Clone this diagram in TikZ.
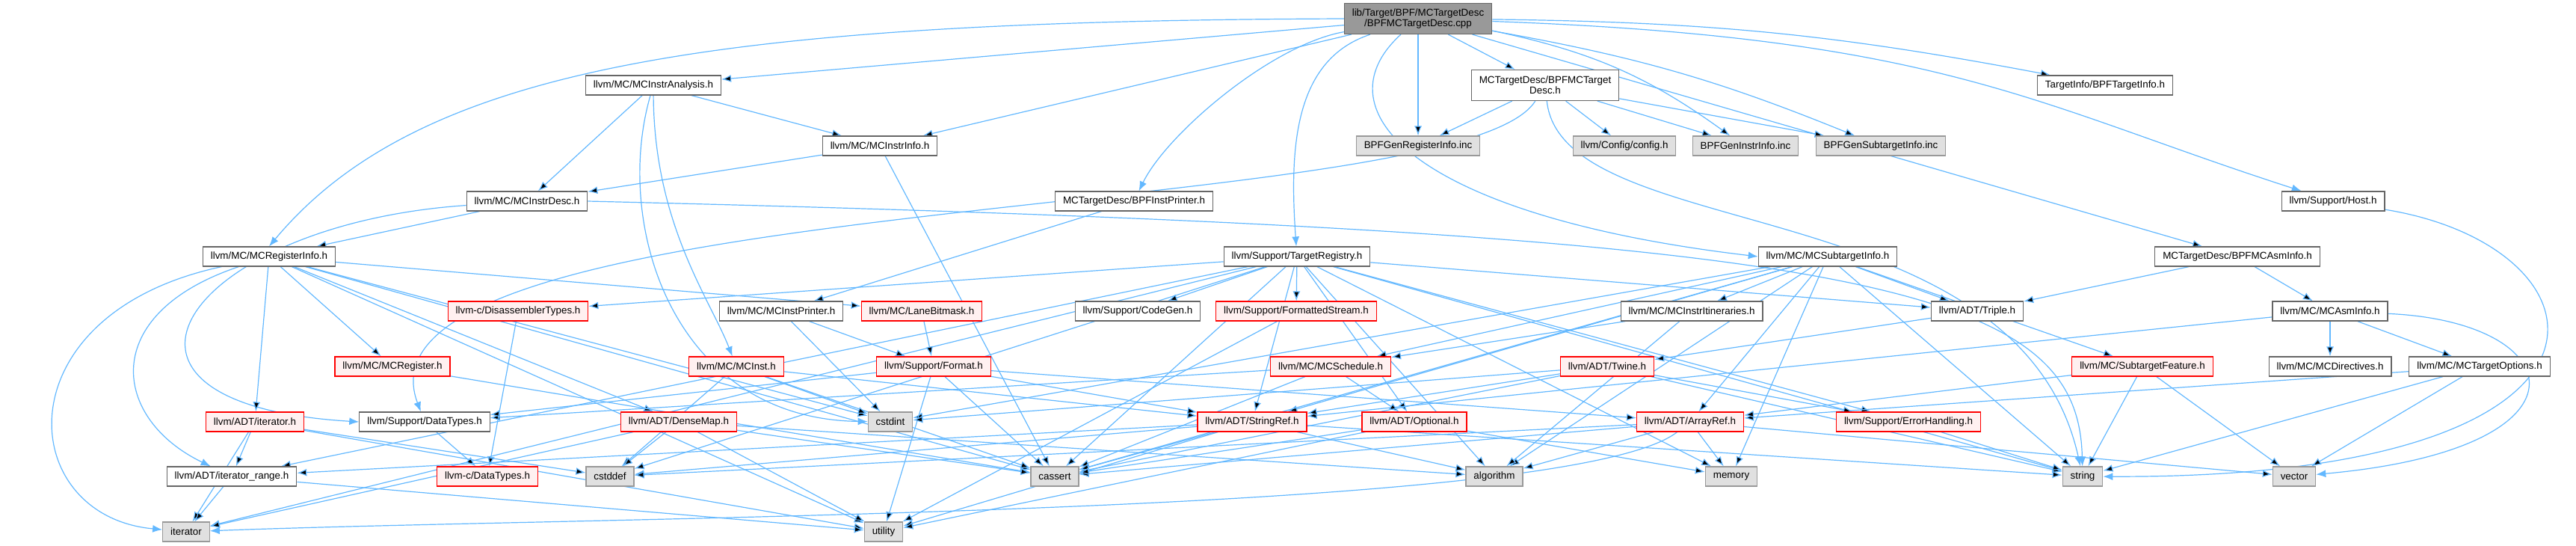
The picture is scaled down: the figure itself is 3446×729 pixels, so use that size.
\documentclass[tikz,border=0pt]{standalone}
\usepackage{fontspec}
\setmainfont{Liberation Sans}
\usepackage{tikz}
\usetikzlibrary{arrows.meta}
\pgfdeclarelayer{edges}
\pgfsetlayers{edges,main}

\definecolor{edgeblue}{HTML}{63B8FF}
\definecolor{mainfill}{HTML}{999999}
\definecolor{nodeborder}{HTML}{666666}
\definecolor{redfill}{HTML}{FFF0F0}
\definecolor{sysfill}{HTML}{E0E0E0}
\definecolor{sysborder}{HTML}{999999}

\begin{document}
\begin{tikzpicture}[x=0.5pt, y=-0.5pt]
    \tikzstyle{file} = [rectangle, draw=nodeborder, fill=white, line width=0.6pt, font=\fontsize{6.7}{7.2}\selectfont, inner xsep=5.2pt, inner ysep=0pt, minimum height=13pt]
    \tikzstyle{twoline} = [file, align=center, minimum height=20.5pt]
    \tikzstyle{mainfile} = [twoline, fill=mainfill]
    \tikzstyle{trunc} = [file, draw=red, fill=redfill]
    \tikzstyle{sys} = [file, draw=sysborder, fill=sysfill]
    \tikzstyle{line} = [draw=edgeblue, line width=0.6pt, -{Latex[length=6.5pt, width=5pt]}]

    \useasboundingbox (0,0) rectangle (3446,729);

    \node [mainfile] (main) at (1897,25) {lib/Target/BPF/MCTargetDesc\\/BPFMCTargetDesc.cpp};
    \node [file] (mia) at (874,114) {llvm/MC/MCInstrAnalysis.h};
    \node [twoline] (tdesc) at (2067,114) {MCTargetDesc/BPFMCTarget\\Desc.h};
    \node [file] (tinfo) at (2816,114) {TargetInfo/BPFTargetInfo.h};
    \node [file] (mii) at (1177,195) {llvm/MC/MCInstrInfo.h};
    \node [sys] (genreg) at (1897,195) {BPFGenRegisterInfo.inc};
    \node [sys] (config) at (2173,195) {llvm/Config/config.h};
    \node [sys] (genins) at (2335,195) {BPFGenInstrInfo.inc};
    \node [sys] (gensub) at (2516,195) {BPFGenSubtargetInfo.inc};
    \node [file] (mdesc) at (705,269) {llvm/MC/MCInstrDesc.h};
    \node [file] (printer) at (1517,269) {MCTargetDesc/BPFInstPrinter.h};
    \node [file] (host) at (3121,269) {llvm/Support/Host.h};
    \node [file] (mri) at (360,343) {llvm/MC/MCRegisterInfo.h};
    \node [file] (treg) at (1735,343) {llvm/Support/TargetRegistry.h};
    \node [file] (msti) at (2445,343) {llvm/MC/MCSubtargetInfo.h};
    \node [file] (asminfo) at (2993,343) {MCTargetDesc/BPFMCAsmInfo.h};
    \node [trunc] (disasm) at (693,416) {llvm-c/DisassemblerTypes.h};
    \node [file] (mip) at (1045,416) {llvm/MC/MCInstPrinter.h};
    \node [trunc] (laneb) at (1233,416) {llvm/MC/LaneBitmask.h};
    \node [file] (codegen) at (1522,416) {llvm/Support/CodeGen.h};
    \node [trunc] (fstream) at (1734,416) {llvm/Support/FormattedStream.h};
    \node [file] (itin) at (2263,416) {llvm/MC/MCInstrItineraries.h};
    \node [file] (triple) at (2645,416) {llvm/ADT/Triple.h};
    \node [file] (masm) at (3117,416) {llvm/MC/MCAsmInfo.h};
    \node [trunc] (mreg) at (525,490) {llvm/MC/MCRegister.h};
    \node [trunc] (minst) at (985,490) {llvm/MC/MCInst.h};
    \node [trunc] (format) at (1249,490) {llvm/Support/Format.h};
    \node [trunc] (msched) at (1780,490) {llvm/MC/MCSchedule.h};
    \node [trunc] (twine) at (2150,490) {llvm/ADT/Twine.h};
    \node [trunc] (subfeat) at (2866,490) {llvm/MC/SubtargetFeature.h};
    \node [file] (mdir) at (3117,490) {llvm/MC/MCDirectives.h};
    \node [file] (mto) at (3317,490) {llvm/MC/MCTargetOptions.h};
    \node [trunc] (iterh) at (341,564) {llvm/ADT/iterator.h};
    \node [file] (sdtypes) at (568,564) {llvm/Support/DataTypes.h};
    \node [trunc] (densemap) at (908,564) {llvm/ADT/DenseMap.h};
    \node [sys] (cstdint) at (1191,564) {cstdint};
    \node [trunc] (stringref) at (1675,564) {llvm/ADT/StringRef.h};
    \node [trunc] (optional) at (1892,564) {llvm/ADT/Optional.h};
    \node [trunc] (arrayref) at (2261,564) {llvm/ADT/ArrayRef.h};
    \node [trunc] (errh) at (2553,564) {llvm/Support/ErrorHandling.h};
    \node [file] (irange) at (310,637) {llvm/ADT/iterator\_range.h};
    \node [trunc] (cdtypes) at (652,637) {llvm-c/DataTypes.h};
    \node [sys] (cstddef) at (816,637) {cstddef};
    \node [sys] (cassert) at (1411,637) {cassert};
    \node [sys] (algorithm) at (1999,637) {algorithm};
    \node [sys] (memory) at (2316,637) {memory};
    \node [sys] (string) at (2786,637) {string};
    \node [sys] (vector) at (3069,637) {vector};
    \node [sys] (iterator) at (249,711) {iterator};
    \node [sys] (utility) at (1182,711) {utility};

    \begin{pgfonlayer}{edges}
    % the .cpp file
    \path [line] (main) edge (mia) edge (mii) edge (genreg) edge (tdesc) edge (asminfo);
    \path [line] (main) edge [bend left=12] (genins) edge [bend left=6] (gensub) edge [bend left=5] (tinfo);
    \path [line] (main.west) .. controls (950,28) and (560,90) .. (mri.north);
    \path [line] (main) .. controls (1730,80) and (1725,200) .. (treg);
    \path [line] (main) .. controls (1700,60) and (1560,180) .. (printer);
    \path [line] (main) .. controls (1760,150) and (1900,290) .. (msti.west);
    \path [line] (main) .. controls (2600,50) and (2720,140) .. (host);
    % BPF headers
    \path [line] (tdesc) edge (genreg) edge (config) edge (genins) edge (gensub);
    \path [line] (tdesc) .. controls (1950,300) and (450,250) .. (sdtypes);
    \path [line] (tdesc) .. controls (2090,330) and (2700,250) .. (string);
    \path [line] (printer) edge (mip);
    \path [line] (asminfo) edge (triple) edge (masm);
    \path [line] (host) .. controls (3500,330) and (3560,640) .. (string);
    % llvm/MC
    \path [line] (mia) edge (mdesc) edge (mii);
    \path [line] (mia) .. controls (875,300) and (950,400) .. (minst);
    \path [line] (mia) .. controls (820,300) and (900,560) .. (cstdint);
    \path [line] (mii) edge (mdesc) edge (cassert);
    \path [line] (mdesc) edge (mri);
    \path [line] (mdesc) .. controls (250,300) and (80,540) .. (sdtypes.west);
    \path [line] (mdesc.east) .. controls (2500,310) and (2780,380) .. (string);
    \path [line] (mri) edge (laneb) edge (mreg) edge (densemap) edge (iterh) edge (cassert) edge (cstdint) edge (utility);
    \path [line] (mri) .. controls (130,420) and (150,560) .. (irange);
    \path [line] (mri) .. controls (0,420) and (20,690) .. (iterator);
    \path [line] (treg) edge (disasm) edge (codegen) edge (fstream) edge (optional) edge (stringref) edge (triple) edge (irange) edge (errh) edge (algorithm) edge (cassert) edge (cstddef) edge (iterator) edge (memory) edge (string);
    \path [line] (msti) edge (arrayref) edge (stringref) edge (triple) edge (itin) edge (msched) edge (subfeat) edge (algorithm) edge (cassert) edge (cstdint) edge (memory) edge (string);
    \path [line] (mip) edge (format) edge (cstdint);
    \path [line] (laneb) edge (format);
    \path [line] (masm) edge (stringref) edge (mdir) edge (mto);
    \path [line] (masm) .. controls (3440,430) and (3480,600) .. (vector);
    \path [line] (mto) edge (arrayref) edge (string) edge (vector);
    \path [line] (subfeat) edge (arrayref) edge (string) edge (vector);
    \path [line] (msched) edge (optional) edge (sdtypes) edge (cassert);
    \path [line] (itin) edge (msched) edge (algorithm);
    \path [line] (mreg) edge (cassert);
    \path [line] (minst) edge (stringref) edge (cassert) edge (cstddef) edge (cstdint);
    % support and ADT
    \path [line] (format) edge (arrayref) edge (stringref) edge (sdtypes) edge (cassert) edge (utility);
    \path [line] (fstream) edge (utility);
    \path [line] (triple) edge (twine);
    \path [line] (twine) edge (stringref) edge (errh) edge (cassert) edge (cstdint) edge (string);
    \path [line] (errh) edge (string);
    \path [line] (disasm) edge (cdtypes);
    \path [line] (sdtypes) edge (cdtypes);
    \path [line] (stringref) edge (irange) edge (algorithm) edge (cassert) edge (cstddef) edge (string) edge (utility);
    \path [line] (arrayref) edge (algorithm) edge (cassert) edge (cstddef) edge (memory) edge (vector);
    \path [line] (arrayref) .. controls (2100,690) and (800,690) .. (iterator);
    \path [line] (optional) edge (cassert) edge (memory) edge (utility);
    \path [line] (densemap) edge (algorithm) edge (cassert) edge (cstddef) edge (iterator) edge (utility);
    \path [line] (iterh) edge (irange) edge (cstddef) edge (iterator) edge (utility);
    \path [line] (irange) edge (iterator) edge (utility);
    \end{pgfonlayer}
\end{tikzpicture}
\end{document}
